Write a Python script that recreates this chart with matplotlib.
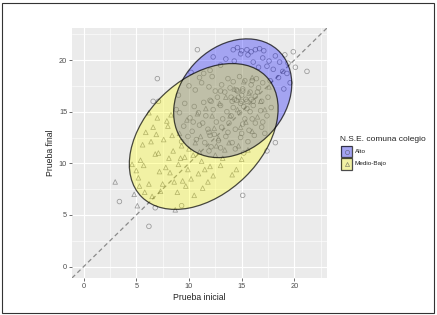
import matplotlib
matplotlib.use("Agg")
import matplotlib.pyplot as plt
import numpy as np
from matplotlib.patches import Ellipse, Rectangle
from matplotlib.lines import Line2D

plt.rcParams['font.family'] = ['Liberation Sans', 'DejaVu Sans']

# points (Prueba inicial, Prueba final)
alto_x = [10.8, 12.3, 13.5, 14.2, 14.6, 15.0, 15.5, 15.9, 16.3, 16.7, 17.1, 14.9, 15.6, 13.0, 14.3,
          16.1, 17.0, 17.6, 18.2, 18.6, 19.1, 19.4, 18.0, 18.9, 17.4, 16.6, 12.0, 11.4, 10.2, 19.3,
          19.9, 20.1, 21.2, 19.6, 18.5, 17.7, 19.0,
          10.0, 10.6, 11.2, 11.9, 12.5, 13.1, 13.7, 14.2, 14.8, 15.3, 15.9, 16.4, 17.0, 13.4, 14.0,
          14.5, 15.0, 15.4, 15.8, 16.3, 16.9, 17.5, 12.1, 12.7, 11.4, 10.5, 9.6, 9.1, 10.1, 10.9,
          11.6, 12.3, 13.0, 13.6, 14.2, 14.8, 15.5, 16.1, 16.8, 17.4, 17.8, 9.5, 10.3, 11.0, 11.8,
          12.4, 13.1, 13.8, 14.4, 15.1, 15.7, 16.3, 16.9, 17.2, 10.7, 11.5, 12.1, 12.8, 13.5, 14.1,
          14.9, 15.6, 16.2, 11.9, 13.0, 14.4, 15.2, 9.9, 9.3, 9.0, 8.8, 12.2, 11.0, 13.9, 15.1,
          16.6, 14.6, 15.5, 14.9, 15.2, 14.1, 14.7, 15.8, 16.5, 13.2, 12.6, 11.3, 10.4, 16.0, 17.0,
          14.0, 15.3, 12.0, 13.7, 15.0, 14.3, 15.0, 15.1, 14.5, 12.0, 11.9, 13.0, 16.0, 16.1, 15.9,
          3.4, 6.2, 7.0, 6.6, 7.1, 15.1, 17.4, 18.2, 9.3, 6.8]
alto_y = [21.0, 20.3, 20.1, 21.0, 21.2, 20.9, 21.0, 20.8, 21.0, 21.1, 20.9, 20.6, 20.5, 19.5, 19.9,
          19.8, 20.2, 19.9, 20.4, 19.8, 20.5, 19.7, 19.1, 18.9, 19.4, 19.3, 19.0, 18.7, 18.8, 18.7,
          20.8, 19.3, 18.9, 17.8, 18.3, 18.0, 17.2,
          17.5, 17.1, 17.8, 17.4, 17.0, 17.6, 18.2, 17.9, 18.4, 18.0, 17.6, 18.2, 17.8, 16.9, 16.4,
          16.1, 16.6, 16.2, 16.9, 16.5, 16.0, 16.4, 16.0, 16.4, 15.9, 15.5, 15.8, 14.9, 14.4, 14.9,
          14.6, 15.2, 15.6, 15.0, 15.4, 14.9, 15.3, 15.6, 15.1, 14.6, 15.4, 13.6, 13.1, 13.7, 13.3,
          12.8, 13.5, 13.9, 13.3, 13.8, 13.2, 13.9, 13.5, 12.9, 12.3, 12.0, 11.6, 12.2, 12.6, 12.0,
          12.5, 12.1, 12.7, 11.2, 11.5, 11.4, 11.0, 12.6, 12.1, 16.6, 15.2, 18.4, 18.3, 17.3, 17.2,
          17.3, 17.0, 16.0, 15.8, 15.5, 16.0, 16.4, 15.0, 16.9, 14.3, 14.0, 13.9, 14.0, 14.3, 14.0,
          14.6, 14.3, 12.7, 13.0, 12.9, 16.2, 16.0, 17.0, 17.1, 16.1, 13.0, 17.0, 18.0, 16.0, 16.2,
          6.3, 3.9, 18.2, 16.0, 16.0, 6.9, 11.2, 12.0, 5.9, 5.7]

medio_x = [3.0, 5.1, 4.6, 5.0, 5.4, 5.7, 5.2, 5.8, 6.2, 5.6, 5.9, 6.4, 6.6, 7.0, 6.2, 6.8, 7.1, 7.2,
           7.5, 7.8, 7.6, 8.0, 8.3, 8.1, 8.5, 8.2, 8.6, 8.9, 9.0, 9.3, 9.1, 8.7, 9.6, 9.9, 10.2, 10.0,
           10.4, 10.6, 10.9, 11.2, 11.5, 11.8, 12.0, 12.3, 11.3, 12.5, 13.0, 13.4, 12.8, 13.8, 14.1,
           14.5, 15.0, 14.7, 15.6, 16.0, 16.5, 15.4, 14.9, 16.8, 17.2, 17.6, 9.8, 10.8, 11.6, 12.2,
           12.9, 13.5, 14.3, 15.2, 16.0, 15.7, 14.6, 13.9, 12.4, 11.1, 9.4, 10.5, 9.2, 7.3, 6.5, 8.4,
           7.9, 6.9, 5.3, 4.8, 9.7, 11.0, 12.6, 13.2]
medio_y = [8.2, 5.9, 9.9, 9.3, 10.3, 9.8, 8.6, 7.2, 8.0, 11.8, 13.0, 12.1, 13.5, 14.4, 14.9, 10.9,
           11.0, 9.2, 8.0, 9.6, 12.3, 13.6, 14.7, 10.5, 11.2, 9.1, 8.2, 7.2, 9.9, 11.7, 12.9, 5.5,
           10.6, 9.4, 8.5, 11.4, 10.8, 12.0, 9.0, 10.2, 9.4, 8.2, 9.7, 8.8, 7.6, 10.8, 9.8, 11.3,
           12.4, 12.0, 8.9, 9.4, 10.4, 11.7, 11.3, 13.1, 14.5, 14.0, 13.5, 16.0, 15.2, 17.4, 14.2,
           14.8, 15.3, 14.6, 15.8, 16.4, 17.2, 17.9, 18.3, 16.8, 15.2, 14.6, 13.4, 12.6, 8.3, 6.9,
           10.5, 7.3, 6.8, 12.7, 14.1, 12.8, 7.8, 7.0, 7.8, 11.1, 11.7, 10.5]

# 95% ellipses: centre x, centre y, width, height, angle
alto_ell = (14.15, 16.3, 12.66, 9.88, 48)
medio_ell = (11.4, 12.6, 16.6, 11.1, 45)

groups = ['Alto', 'Medio-Bajo']
fills = ['#0000ff', '#ffff00']
markers = ['o', '^']

fig = plt.figure(figsize=(4.37, 3.15), dpi=100)
ax = fig.add_axes([72 / 437, 1 - 278 / 315, 255 / 437, 250 / 315])
ax.set_facecolor('#ebebeb')

ax.set_xlim(-1.1, 23.1)
ax.set_ylim(-1.1, 23.1)
ax.set_xticks([0, 5, 10, 15, 20])
ax.set_yticks([0, 5, 10, 15, 20])
ax.set_xticks([2.5, 7.5, 12.5, 17.5, 22.5], minor=True)
ax.set_yticks([2.5, 7.5, 12.5, 17.5, 22.5], minor=True)
ax.grid(which='major', color='white', lw=0.8)
ax.grid(which='minor', color='white', lw=0.4)
ax.set_axisbelow(True)
for s in ax.spines.values():
    s.set_visible(False)
ax.tick_params(which='major', length=2, width=0.5, color='#333333',
               labelsize=5.3, labelcolor='#4d4d4d', pad=1.5)
ax.tick_params(which='minor', length=0)

ax.axline((0, 0), slope=1, color='#8a8a8a', lw=0.9, ls=(0, (3.5, 2.5)), zorder=1)

ax.scatter(alto_x, alto_y, s=11, marker='o', facecolors='none',
           edgecolors='#444444', linewidths=0.55, alpha=0.5, zorder=2)
ax.scatter(medio_x, medio_y, s=11, marker='^', facecolors='none',
           edgecolors='#444444', linewidths=0.55, alpha=0.5, zorder=2)

for (cx, cy, w, h, ang), col in zip([alto_ell, medio_ell], fills):
    ax.add_patch(Ellipse((cx, cy), w, h, angle=ang, facecolor=col, alpha=0.3,
                         edgecolor='none', zorder=3))
for (cx, cy, w, h, ang) in [alto_ell, medio_ell]:
    ax.add_patch(Ellipse((cx, cy), w, h, angle=ang, facecolor='none',
                         edgecolor=(0, 0, 0, 0.7), lw=0.9, zorder=4))

ax.set_xlabel('Prueba inicial', fontsize=6.2, color='#222222', labelpad=2)
ax.set_ylabel('Prueba final', fontsize=6.2, color='#222222', labelpad=3)

# legend drawn by hand
fig.text(340.5 / 437, 1 - 139.5 / 315, 'N.S.E. comuna colegio', fontsize=6.0,
         color='#222222', va='center', ha='left')
for i, (g, col, m) in enumerate(zip(groups, fills, markers)):
    y0 = 146 + i * 12.3
    fig.patches.append(Rectangle((341 / 437, 1 - (y0 + 11.3) / 315), 11 / 437, 11.3 / 315,
                                 transform=fig.transFigure, facecolor='#ebebeb',
                                 edgecolor='none'))
    fig.patches.append(Rectangle((341 / 437, 1 - (y0 + 11.3) / 315), 11 / 437, 11.3 / 315,
                                 transform=fig.transFigure, facecolor=col, alpha=0.3,
                                 edgecolor='none'))
    fig.patches.append(Rectangle((341 / 437, 1 - (y0 + 11.3) / 315), 11 / 437, 11.3 / 315,
                                 transform=fig.transFigure, facecolor='none',
                                 edgecolor=(0, 0, 0, 0.7), lw=0.9))
    fig.lines.append(Line2D([346.5 / 437], [1 - (y0 + 5.65) / 315], marker=m,
                            markersize=3, markerfacecolor='none', markeredgecolor='#444444',
                            markeredgewidth=0.5, alpha=0.6, transform=fig.transFigure))
    fig.text(354.5 / 437, 1 - (y0 + 5.65) / 315, g, fontsize=4.6, color='#222222',
             va='center', ha='left')

# screenshot frame
fig.patches.append(Rectangle((2 / 437, 2.5 / 315), 431.5 / 437, 309.5 / 315,
                             transform=fig.transFigure, facecolor='none',
                             edgecolor='#333333', lw=0.8))

fig.savefig('out.png', dpi=100)
